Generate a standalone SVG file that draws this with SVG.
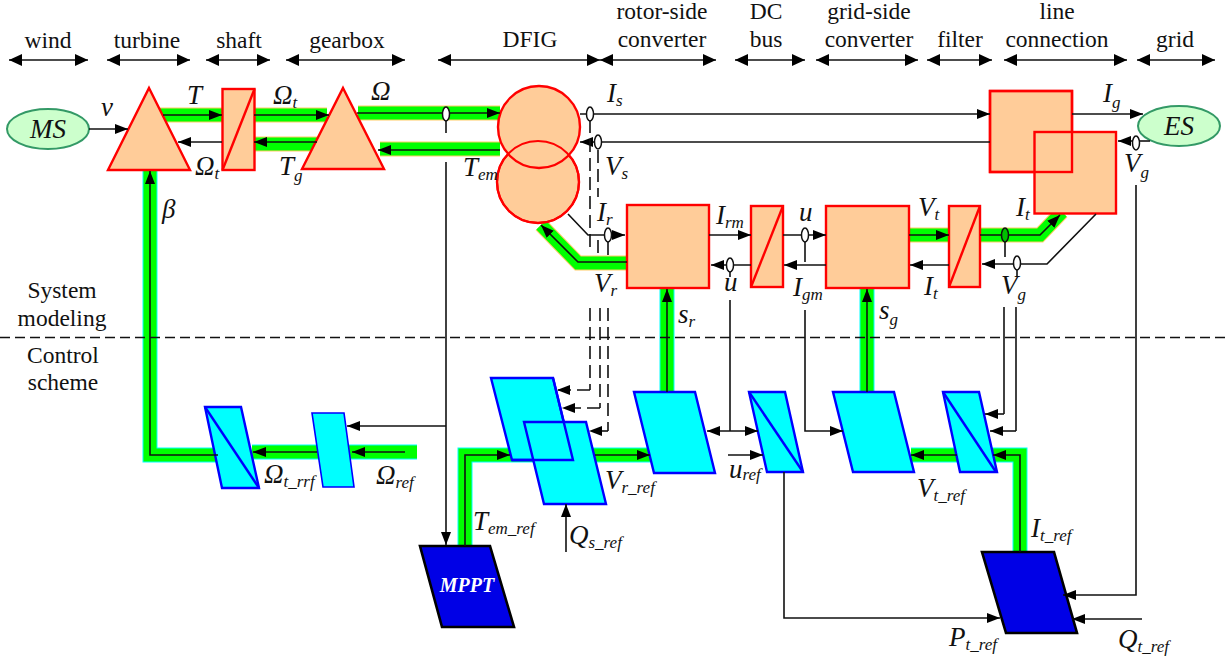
<svg xmlns="http://www.w3.org/2000/svg" width="1230" height="661" viewBox="0 0 1230 661">
<style>
text{font-family:"Liberation Serif","Times New Roman",serif;fill:#111}
.h{font-size:23.5px;text-anchor:middle}
.v{font-size:27px;font-style:italic}
.s{font-size:17px;font-style:italic}
.pw{fill:none;stroke:#FFCC66;stroke-width:15}
.pw2{fill:none;stroke:#00FF00;stroke-width:13}
.cw{fill:none;stroke:#00FFFF;stroke-width:15}
.l{fill:none;stroke:#111;stroke-width:1.6}
.a{marker-end:url(#ar)}
.w{fill:none;stroke:#111;stroke-width:1.6;marker-start:url(#big);marker-end:url(#big)}
.d{stroke-dasharray:13 6}
.sen{fill:#fff;stroke:#111;stroke-width:1.5}
.o{fill:#FFCC99;stroke:#FF0000;stroke-width:2.4}
.c{fill:#00FFFF;stroke:#0000FF;stroke-width:2.4}
.m{fill:#0000E6;stroke:#000;stroke-width:2.6}
.e{fill:#CCFFCC;stroke:#339966;stroke-width:2}
</style>
<defs>
<marker id="ar" markerUnits="userSpaceOnUse" markerWidth="14" markerHeight="12" viewBox="0 0 14 12" refX="13" refY="6" orient="auto-start-reverse"><path d="M0 1 L13 6 L0 11 Z" fill="#000"/></marker>
<marker id="big" markerUnits="userSpaceOnUse" markerWidth="14" markerHeight="14" viewBox="0 0 14 14" refX="13" refY="7" orient="auto-start-reverse"><path d="M0 1 L13 7 L0 13 Z" fill="#000"/></marker>
</defs>

<g id="connectors-power">
<path class="pw" d="M160 115H222M254 115H327M254 144H317M358 113H500M380 149H500"/>
<path class="pw2" d="M160 115H222M254 115H327M254 144H317M358 113H500M380 149H500"/>
<path class="pw" d="M541 225L578 263H627M909 235H949M980 235H1040L1062 212"/>
<path class="pw2" d="M541 225L578 263H627M909 235H949M980 235H1040L1062 212"/>
<path class="cw" d="M150 170V455H218M252 452H417M465 546V455H650M667 288V392M867 288V392M911 455H1020V552"/>
<path class="pw2" d="M150 170V455H218M252 452H417M465 546V455H650M667 288V392M867 288V392M911 455H1020V552"/>
</g>

<g id="node-ms"><ellipse class="e" cx="48" cy="129" rx="41" ry="20"/><text class="v" x="48" y="138" text-anchor="middle">MS</text></g>
<g id="node-turbine"><path class="o" d="M149 88L190 170H108Z"/></g>
<g id="node-shaft"><rect class="o" x="222.500" y="89" width="32" height="81"/><path class="o" d="M222.500 170L254.500 89"/></g>
<g id="node-gearbox"><path class="o" d="M343 88L384 169H302Z"/></g>
<g id="node-dfig-rotor"><circle class="o" cx="538" cy="182" r="41"/></g>
<g id="node-dfig-stator"><circle class="o" cx="539" cy="127" r="41"/><circle cx="538" cy="182" r="41" fill="none" stroke="#FF0000" stroke-width="2"/></g>
<g id="node-rotor-converter"><rect class="o" x="627" y="205" width="82" height="83"/></g>
<g id="node-dc-modulator"><rect class="o" x="751" y="206" width="32" height="81"/><path class="o" d="M751 287L783 206"/></g>
<g id="node-grid-converter"><rect class="o" x="826" y="206" width="83" height="82"/></g>
<g id="node-filter"><rect class="o" x="949" y="206" width="31" height="81"/><path class="o" d="M949 287L980 206"/></g>
<g id="node-line-stator"><rect class="o" x="990" y="91" width="82" height="81"/></g>
<g id="node-line-converter"><rect class="o" x="1034.500" y="132" width="81.500" height="81.500"/><rect x="990" y="91" width="82" height="81" fill="none" stroke="#FF0000" stroke-width="2.400"/></g>
<g id="node-es"><ellipse class="e" cx="1179" cy="126" rx="41" ry="20"/><text class="v" x="1179" y="135" text-anchor="middle">ES</text></g>

<g id="node-c-turbine"><path class="c" d="M205 407H241L259 488H222Z"/><path class="c" d="M205 407L259 488"/></g>
<g id="node-c-speed"><path class="c" style="stroke-width:1.600" d="M312 413H344L354 487H323Z"/></g>
<g id="node-c-torque"><path class="c" d="M491 378H553L573 460H512Z"/></g>
<g id="node-c-reactive"><path class="c" d="M524 422H586L606 504H544Z"/><path d="M512 460H573L553 378" fill="none" stroke="#0000FF" stroke-width="2.400"/></g>
<g id="node-c-rotor"><path class="c" d="M634 392H695L715 473H654Z"/></g>
<g id="node-c-dc"><path class="c" d="M749 392H785L803 472H767Z"/><path class="c" d="M749 392L803 472"/></g>
<g id="node-c-grid"><path class="c" d="M833 392H894L914 472H853Z"/></g>
<g id="node-c-filter"><path class="c" d="M943 392H979L997 472H960Z"/><path class="c" d="M943 392L996 472"/></g>
<g id="node-mppt"><path class="m" d="M420 546H490L514 627H442Z"/><text x="467" y="592" text-anchor="middle" style="font-size:20px;font-weight:bold;font-style:italic;fill:#fff">MPPT</text></g>
<g id="node-power"><path class="m" d="M982 552H1054L1077 633H1006Z"/></g>

<g id="connectors">
<line x1="0" y1="337.500" x2="1230" y2="337.500" stroke="#111" stroke-width="1.300" stroke-dasharray="10 5"/>
<path class="w" d="M9 60H88"/>
<path class="w" d="M107 60H190"/>
<path class="w" d="M206 60H270"/>
<path class="w" d="M286 60H405"/>
<path class="w" d="M438 60H600"/>
<path class="w" d="M600 60H716"/>
<path class="w" d="M735 60H805"/>
<path class="w" d="M816 60H918"/>
<path class="w" d="M927 60H992"/>
<path class="w" d="M1004 60H1127"/>
<path class="w" d="M1137 60H1215"/>
<path class="l a" d="M89 129H128"/>
<path class="l a" d="M163 115H222"/>
<path class="l a" d="M254 115H329"/>
<path class="l a" d="M222 142H178"/>
<path class="l a" d="M317 142H254"/>
<path class="l a" d="M357 113H500"/>
<path class="l a" d="M500 150H378"/>
<path class="l a" d="M580 114H990"/>
<path class="l a" d="M1072 114H1143"/>
<path class="l a" d="M990 142H580"/>
<path class="l a" d="M1150 141H1118"/>
<path class="l" d="M446 133V119"/>
<path class="l a" d="M446 162V545"/>
<path class="l a" d="M446 426H347"/>
<path class="l a" d="M568 214L588 235H625"/>
<path class="l a" d="M627 262H578L541 225"/>
<path class="l a" d="M709 235H751"/>
<path class="l a" d="M783 235H826"/>
<path class="l a" d="M751 265H711"/>
<path class="l a" d="M826 265H784"/>
<path class="l a" d="M909 235H949"/>
<path class="l a" d="M949 265H910"/>
<path class="l a" d="M980 235H1040L1060 215"/>
<path class="l a" d="M1096 214L1047 264H982"/>
<path class="l" d="M805 242V262M1005 242V257M1017 270V276M730 272V277M608 242V255"/>
<path class="l d" d="M590 120V253M590 308V390"/>
<path class="l a d" d="M590 390H557"/>
<path class="l d" d="M598 150V197M598 240V254M600 308V408"/>
<path class="l a d" d="M600 408H562"/>
<path class="l d" d="M608 308V431"/>
<path class="l a d" d="M608 431H589"/>
<path class="l a" d="M667 392V289"/>
<path class="l a" d="M867 392V289"/>
<path class="l" d="M730 300V431"/>
<path class="l a" style="marker-start:url(#ar)" d="M707 431H758"/>
<path class="l a" d="M728 455H763"/>
<path class="l a" d="M805 310V431H843"/>
<path class="l" d="M1004 307V414"/>
<path class="l a" d="M1004 414H985"/>
<path class="l" d="M1016 307V431"/>
<path class="l a" d="M1016 431H990"/>
<path class="l a" d="M1136 185V595H1063"/>
<path class="l a" d="M1142 619H1072"/>
<path class="l a" d="M784 472V618H1000"/>
<path class="l a" d="M566 552V504"/>
<path class="l a" d="M465 546V455H510"/>
<path class="l a" d="M595 455H650"/>
<path class="l a" d="M1020 552V455H993"/>
<path class="l a" d="M957 455H911"/>
<path class="l a" d="M218 455H150V171"/>
<path class="l a" d="M317 452H253"/>
<path class="l a" d="M405 452H352"/>
<ellipse class="sen" cx="446" cy="114" rx="3.500" ry="7"/>
<ellipse class="sen" cx="590" cy="114" rx="3.500" ry="7"/>
<ellipse class="sen" cx="598" cy="142" rx="3.500" ry="7"/>
<ellipse class="sen" cx="608" cy="235" rx="3.500" ry="7"/>
<ellipse class="sen" cx="730" cy="265" rx="3.500" ry="7"/>
<ellipse class="sen" cx="805" cy="235" rx="3.500" ry="7"/>
<ellipse class="sen" style="fill:#00C000" cx="1005" cy="235" rx="3.500" ry="7"/>
<ellipse class="sen" cx="1017" cy="263" rx="3.500" ry="7"/>
<ellipse class="sen" cx="1136" cy="143" rx="3.500" ry="7"/>
</g>

<g id="labels">
<text class="h" x="48" y="48">wind</text>
<text class="h" x="147" y="48">turbine</text>
<text class="h" x="239" y="48">shaft</text>
<text class="h" x="347" y="48">gearbox</text>
<text class="h" x="530" y="47">DFIG</text>
<text class="h" x="662" y="19">rotor-side</text>
<text class="h" x="662" y="47">converter</text>
<text class="h" x="766" y="19">DC</text>
<text class="h" x="766" y="47">bus</text>
<text class="h" x="869" y="19">grid-side</text>
<text class="h" x="869" y="47">converter</text>
<text class="h" x="960" y="47">filter</text>
<text class="h" x="1057" y="19">line</text>
<text class="h" x="1057" y="47">connection</text>
<text class="h" x="1175" y="47">grid</text>
<text class="h" x="62" y="298">System</text>
<text class="h" x="62" y="326">modeling</text>
<text class="h" x="63" y="363">Control</text>
<text class="h" x="63" y="390">scheme</text>

<text class="v" x="101" y="116">v</text>
<text class="v" x="187" y="104">T</text>
<text class="v" x="273" y="104">Ω<tspan class="s" dy="4">t</tspan></text>
<text class="v" x="371" y="100">Ω</text>
<text class="v" x="195" y="175">Ω<tspan class="s" dy="4">t</tspan></text>
<text class="v" x="279" y="175">T<tspan class="s" dy="6">g</tspan></text>
<text class="v" x="463" y="176">T<tspan class="s" dy="4">em</tspan></text>
<text class="v" x="162" y="218">β</text>
<text class="v" x="607" y="102">I<tspan class="s" dy="4">s</tspan></text>
<text class="v" x="605" y="175">V<tspan class="s" dy="4">s</tspan></text>
<text class="v" x="597" y="221">I<tspan class="s" dy="4">r</tspan></text>
<text class="v" x="594" y="292">V<tspan class="s" dy="4">r</tspan></text>
<text class="v" x="716" y="224">I<tspan class="s" dy="4">rm</tspan></text>
<text class="v" x="799" y="221">u</text>
<text class="v" x="724" y="291">u</text>
<text class="v" x="793" y="296">I<tspan class="s" dy="4">gm</tspan></text>
<text class="v" x="918" y="216">V<tspan class="s" dy="4">t</tspan></text>
<text class="v" x="1016" y="216">I<tspan class="s" dy="4">t</tspan></text>
<text class="v" x="924" y="295">I<tspan class="s" dy="4">t</tspan></text>
<text class="v" x="1001" y="294">V<tspan class="s" dy="6">g</tspan></text>
<text class="v" x="1103" y="102">I<tspan class="s" dy="6">g</tspan></text>
<text class="v" x="1124" y="172">V<tspan class="s" dy="6">g</tspan></text>
<text class="v" x="678" y="323">s<tspan class="s" dy="4">r</tspan></text>
<text class="v" x="879" y="319">s<tspan class="s" dy="6">g</tspan></text>
<text class="v" x="264" y="483">Ω<tspan class="s" dy="4">t_rrf</tspan></text>
<text class="v" x="376" y="484">Ω<tspan class="s" dy="4">ref</tspan></text>
<text class="v" x="605" y="489">V<tspan class="s" dy="4">r_ref</tspan></text>
<text class="v" x="729" y="478">u<tspan class="s" dy="2">ref</tspan></text>
<text class="v" x="917" y="497">V<tspan class="s" dy="4">t_ref</tspan></text>
<text class="v" x="473" y="530">T<tspan class="s" dy="4">em_ref</tspan></text>
<text class="v" x="569" y="544">Q<tspan class="s" dy="4">s_ref</tspan></text>
<text class="v" x="1031" y="537">I<tspan class="s" dy="4">t_ref</tspan></text>
<text class="v" x="949" y="646">P<tspan class="s" dy="4">t_ref</tspan></text>
<text class="v" x="1118" y="648">Q<tspan class="s" dy="4">t_ref</tspan></text>
</g>
</svg>
